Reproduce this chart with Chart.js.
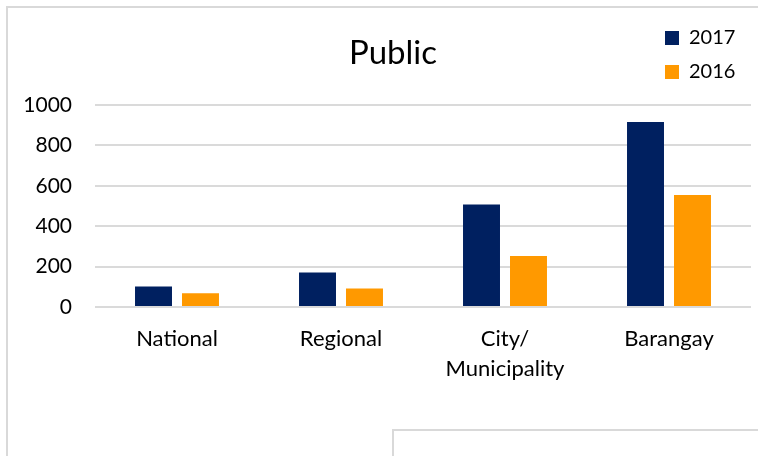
<!DOCTYPE html>
<html>
<head>
<meta charset="utf-8">
<script src="https://cdn.jsdelivr.net/npm/chart.js@4.4.1/dist/chart.umd.min.js"></script>
<style>
  html, body { margin: 0; padding: 0; background: #ffffff; overflow: hidden; }
  #wrap { position: relative; width: 758px; height: 456px; overflow: hidden; }
  .frame { position: absolute; left: 6px; top: 6px; width: 820px; height: 520px;
           border-left: 2px solid #d9d9d9; border-top: 2px solid #d9d9d9; }
  .frame2 { position: absolute; left: 392px; top: 429px; width: 420px; height: 80px;
            border: 2px solid #d9d9d9; }
  canvas { position: absolute; left: 0; top: 0; }
</style>
</head>
<body>
<div id="wrap">
  <div class="frame"></div>
  <div class="frame2"></div>
  <canvas id="c" width="758" height="456"></canvas>
</div>
<script>
const categories = ['National', 'Regional', ['City/', 'Municipality'], 'Barangay'];
const seriesNames = ['2017', '2016'];
const values2017 = [101, 171, 508, 916];
const values2016 = [68, 91, 252, 555];
const yTicks = [0, 200, 400, 600, 800, 1000];

const FONT = 'Lato, "Open Sans", "Liberation Sans", sans-serif';

const placeBlocks = {
  id: 'placeBlocks',
  afterLayout(chart) {
    const lg = chart.legend;
    if (lg) {
      const w = lg.width;
      lg.left = 651; lg.top = 14;
      lg.right = 651 + w; lg.bottom = 14 + 90; lg.height = 90;
    }
    const t = chart.titleBlock;
    if (t) {
      t.left = 35; t.right = 751; t.width = 716;
    }
  }
};

new Chart(document.getElementById('c'), {
  type: 'bar',
  data: {
    labels: categories,
    datasets: [
      { label: seriesNames[0], data: values2017, backgroundColor: '#002060',
        categoryPercentage: 0.573, barPercentage: 0.787 },
      { label: seriesNames[1], data: values2016, backgroundColor: '#FF9900',
        categoryPercentage: 0.573, barPercentage: 0.787 }
    ]
  },
  options: {
    responsive: false,
    animation: false,
    devicePixelRatio: 1,
    layout: { padding: { left: 25, right: 7, top: 0, bottom: 63 } },
    plugins: {
      title: {
        display: true, text: 'Public', color: '#000000',
        font: { family: FONT, size: 33, weight: 'normal' },
        padding: { top: 34, bottom: 31.4 }
      },
      legend: {
        position: 'chartArea', align: 'start',
        labels: {
          color: '#000000', boxWidth: 14, boxHeight: 14, padding: 14,
          font: { family: FONT, size: 20 }
        }
      },
      tooltip: { enabled: false }
    },
    scales: {
      x: {
        grid: { display: false },
        border: { display: false },
        ticks: {
          color: '#000000', padding: 9, maxRotation: 0, autoSkip: false,
          font: { family: FONT, size: 22, lineHeight: 1.364 }
        }
      },
      y: {
        min: 0, max: 1000,
        afterFit: s => { s.width = 70; },
        afterBuildTicks: s => { s.ticks = yTicks.map(v => ({ value: v })); },
        grid: { color: '#dadada', lineWidth: 2, drawTicks: false },
        border: { display: false },
        ticks: {
          color: '#000000', padding: 23,
          font: { family: FONT, size: 21 },
          callback: v => String(v)
        }
      }
    }
  },
  plugins: [placeBlocks]
});
</script>
</body>
</html>
